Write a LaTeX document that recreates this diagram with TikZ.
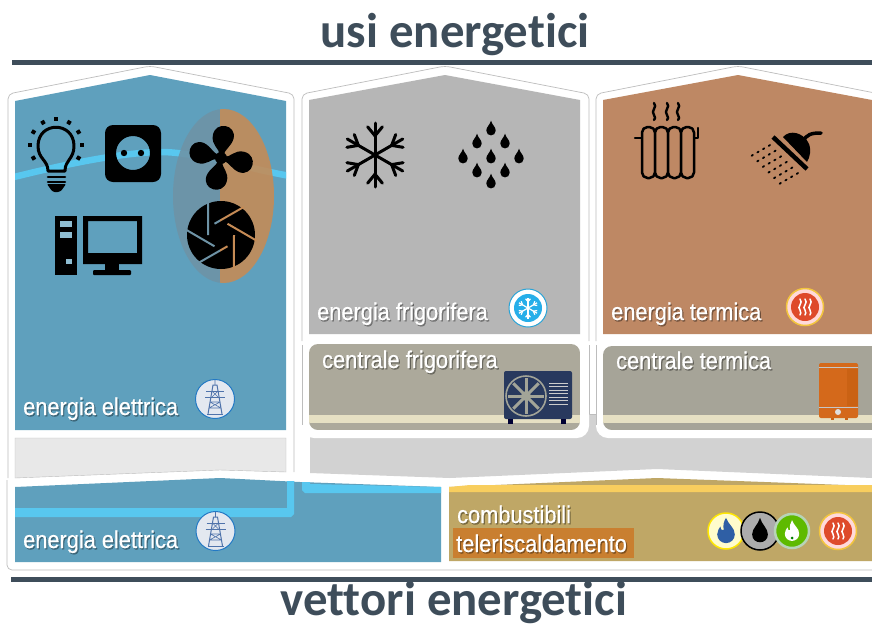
\documentclass[tikz,border=0pt]{standalone}
\usepackage{fontspec}
\setmainfont{Liberation Sans}
\newfontfamily\titlefont[Ligatures=NoCommon]{Carlito}
\newfontfamily\narrowfont[FakeStretch=0.9,FakeBold=0.4]{Liberation Sans}
\definecolor{titledark}{HTML}{3E4D5A}
\definecolor{elblue}{HTML}{5FA0BD}
\definecolor{linkblue}{HTML}{58C7EF}
\definecolor{frigrey}{HTML}{B6B6B6}
\definecolor{termbrown}{HTML}{BE8864}
\definecolor{centralea}{HTML}{ACA99B}
\definecolor{centraleb}{HTML}{A6A498}
\definecolor{bandcream}{HTML}{E6E0C3}
\definecolor{fuelgold}{HTML}{BFA766}
\definecolor{fuelyellow}{HTML}{F8CE5E}
\definecolor{teleorange}{HTML}{C97F30}
\definecolor{outlinegrey}{HTML}{BDBDBD}
\definecolor{ellgrey}{HTML}{6E93A6}
\definecolor{ellorange}{HTML}{C68B55}
\definecolor{pylonring}{HTML}{2379C4}
\definecolor{pylonfill}{HTML}{E3E8F0}
\definecolor{pylonline}{HTML}{4F73AB}
\definecolor{heatring}{HTML}{F2C53D}
\definecolor{heatred}{HTML}{DE4A2B}
\definecolor{snowring}{HTML}{2AA3D6}
\definecolor{snowdisc}{HTML}{26AEE9}
\definecolor{unitnavy}{HTML}{28395E}
\definecolor{unitgrey}{HTML}{A2A498}
\definecolor{boilerorange}{HTML}{D4691B}
\definecolor{boilerdark}{HTML}{CA6214}
\definecolor{flameblue}{HTML}{2F5FA5}
\tikzset{
  titlelabel/.style={font=\titlefont\bfseries\fontsize{48.8}{48.8}\selectfont, text=titledark, anchor=base, inner sep=0pt},
  panellabel/.style={font=\narrowfont\fontsize{24.2}{24.2}\selectfont, text=white, anchor=base west, inner sep=0pt},
  labelshade/.style={panellabel, text=black, opacity=.35},
  outline/.style={color=outlinegrey, line width=0.7pt, line join=round},
  icon/.style={color=black, line width=2.5pt, line cap=round, line join=round},
  waveline/.style={white, line width=1.5pt, line cap=round},
  flake/.pic={
    \foreach \a in {90,150,210,270,330,30} {
      \draw[pic actions, rotate=\a] (0,0) -- (\flakelen,0);
      \draw[pic actions, rotate=\a] (0.6*\flakelen,0) -- ++(0.28*\flakelen,0.23*\flakelen);
      \draw[pic actions, rotate=\a] (0.6*\flakelen,0) -- ++(0.28*\flakelen,-0.23*\flakelen);
    }
  },
  droplet/.pic={
    \fill[pic actions] (0,-7) .. controls (1,-3) and (4.5,-1) .. (4.5,2.5) .. controls (4.5,5.5) and (2.2,7) .. (0,7) .. controls (-2.2,7) and (-4.5,5.5) .. (-4.5,2.5) .. controls (-4.5,-1) and (-1,-3) .. (0,-7) -- cycle;
  },
  flame/.pic={
    \fill[pic actions] (0,-12) .. controls (2,-6) and (8,-3) .. (8,3) .. controls (8,8) and (4,11) .. (0,11) .. controls (-4,11) and (-8,8) .. (-8,3) .. controls (-8,0) and (-6,-3) .. (-5,-4) .. controls (-5,-1) and (-3,0) .. (-2,-1) .. controls (-3,-5) and (-2,-9) .. (0,-12) -- cycle;
  },
  pylonbadge/.pic={
    \draw[color=pylonring, fill=pylonfill, line width=1pt] (0,0) circle (19.5pt);
    \draw[color=pylonline, line width=1pt] (-7,15) -- (-2,-14) -- (2,-14) -- (7,15);
    \draw[color=pylonline, line width=1pt] (-9,-8) -- (9,-8) (-10,-2) -- (10,-2) (-8,15) -- (8,15);
    \draw[color=pylonline, line width=0.6pt] (-5,3) -- (5,3) (-6,9) -- (6,9) (-5,3) -- (6,9) (5,3) -- (-6,9) (-3,-8) -- (3,-2) (3,-8) -- (-3,-2) (0,-19) -- (0,-14);
  },
  heatbadge/.pic={
    \draw[color=heatring, fill=white!85!red, line width=1.5pt] (0,0) circle (18.5pt);
    \fill[color=heatred] (0,0) circle (14pt);
    \foreach \h in {-5,0,5} {
      \draw[waveline] (\h,-8) .. controls (\h+4,-4) and (\h-4,0) .. (\h,3) .. controls (\h+2,5) and (\h,7) .. (\h,8);
    }
  }
}
\newcommand{\flakelen}{32}
\newcommand{\shadelabel}[4]{
  \node[labelshade] (#1shade) at (#2+1.2,#3+1.4) {#4};
  \node[panellabel] (#1) at (#2,#3) {#4};
}
\begin{document}
\begin{tikzpicture}[x=1pt, y=-1pt]
\useasboundingbox (0,0) rectangle (872,627);
\fill[white] (0,0) rectangle (872,627);

\node[titlelabel] (usi) at (455,47) {usi energetici};
\node[titlelabel] (vettori) at (454,615.5) {vettori energetici};
\fill[color=titledark] (12,60) rectangle (872,65);
\fill[color=titledark] (11,577) rectangle (872,582);

\draw[outline, rounded corners=5pt] (294,472) -- (294,94) -- (150,66) -- (8,94) -- (8,478);
\draw[outline, rounded corners=5pt] (302,341) -- (302,94) -- (445,66) -- (589,94) -- (589,341);
\draw[outline, rounded corners=5pt] (596,341) -- (596,94) -- (738,66) -- (880,94);
\draw[outline, rounded corners=5pt] (7,480) -- (7,570) -- (880,570);

\fill[color=elblue] (15,101) -- (150,75) -- (286,101) -- (286,430) -- (15,430) -- cycle;
\fill[color=frigrey] (309,100) -- (445,75) -- (580,100) -- (580,334) -- (309,334) -- cycle;
\fill[color=termbrown] (603,100) -- (738,75) -- (872,100) -- (872,334) -- (603,334) -- cycle;

\draw[color=outlinegrey, fill=gray!18] (15,438) -- (286,438) -- (286,472) -- (220,470) -- (15,478) -- cycle;
\fill[color=gray!35] (310,414) -- (872,414) -- (872,478) -- (657,469) -- (450,478) -- (310,473) -- cycle;
\fill[color=gray!35] (589,414) rectangle (597,437);
\draw[outline] (589,414) -- (597,414);

\fill[white, rounded corners=12pt] (302,338) rectangle (589,438);
\fill[white, rounded corners=12pt] (596,338) rectangle (890,438);
\draw[outline, rounded corners=8pt] (589,345) -- (589,414);
\draw[outline, rounded corners=8pt] (302,345) -- (302,425);
\draw[outline, rounded corners=8pt] (596,345) -- (596,425);

\begin{scope}
\clip[rounded corners=9pt] (309,344) rectangle (580,430);
\fill[color=centralea] (309,344) rectangle (580,430);
\fill[color=bandcream] (309,415) rectangle (580,423);
\end{scope}
\begin{scope}
\clip[rounded corners=9pt] (603,346) rectangle (890,430);
\fill[color=centraleb] (603,346) rectangle (890,430);
\fill[color=bandcream] (603,415) rectangle (890,423);
\end{scope}

\fill[color=elblue] (15,487) -- (220,478) -- (300,482) -- (441,487) -- (441,562) -- (15,562) -- cycle;
\fill[color=linkblue] (15,508) -- (287,508) -- (287,481) -- (294,481) -- (294,514) -- (291,517) -- (15,517) -- cycle;
\fill[color=linkblue] (302,482) -- (310,482) -- (310,484) -- (441,487) -- (441,493) -- (305,493) -- (302,490) -- cycle;
\fill[color=fuelgold] (449,487) -- (657,478) -- (872,486) -- (872,561) -- (449,561) -- cycle;
\fill[color=fuelyellow] (449,487) -- (470,485) -- (872,485) -- (872,492) -- (449,492) -- cycle;
\fill[color=teleorange] (453,528) rectangle (634,558);

\begin{scope}
\clip (15,130) rectangle (286,200);
\draw[color=linkblue, line width=6.5pt] (10,178) .. controls (70,163) and (125,152) .. (163,152) .. controls (200,153) and (245,168) .. (290,176);
\end{scope}

\begin{scope}
\clip (120,100) rectangle (220,290);
\fill[color=ellgrey, opacity=.88] (223.5,196) ellipse (50.5pt and 87pt);
\end{scope}
\begin{scope}
\clip (220,100) rectangle (290,290);
\fill[color=ellorange, opacity=.88] (223.5,196) ellipse (50.5pt and 87pt);
\end{scope}

\foreach \a in {90,60,30,0,-30,120,150,180,210} {
  \fill[black, rotate around={\a:(56,145)}] (80,143) rectangle (84,147);
}
\draw[icon, line width=3pt] (48,171) .. controls (48,160) and (38,159) .. (38,146) .. controls (38,121) and (74,121) .. (74,146) .. controls (74,159) and (65,160) .. (65,171) -- cycle;
\draw[icon, line width=2.6pt] (48,177) -- (65,177);
\draw[icon, line width=2.6pt] (48,182) -- (65,182);
\fill[black, rounded corners=1pt] (47,184) -- (66,184) -- (61,191) -- (56,192.5) -- (52,191) -- cycle;

\fill[black, even odd rule] [rounded corners=8pt] (105,125) rectangle (161,182) [sharp corners] (133,153) circle (17pt);
\fill[black] (124,153) circle (3.2pt);
\fill[black] (141,153) circle (3.2pt);

\fill[black] (55,216) rectangle (77,275);
\fill[color=elblue!70!white] (60,221) rectangle (72,227);
\fill[color=elblue!70!white] (60,232) rectangle (72,238);
\fill[color=elblue!70!white] (66,259) rectangle (72,264);
\fill[black, even odd rule] (83,216) rectangle (142,264) (88,221) rectangle (137,253);
\fill[black] (105,264) rectangle (119,271);
\fill[black, rounded corners=1pt] (93,270) rectangle (131,275);

\foreach \a in {-106,-15,80,162} {
  \fill[black, shift={(221,158)}, rotate=\a] (3,-2) .. controls (9,-3) and (11,-12) .. (21,-12) .. controls (36,-12) and (36,10) .. (21,9) .. controls (13,8) and (9,2) .. (3,2) -- cycle;
}
\fill[black] (221,158) circle (6pt);

\fill[black] (221,235) circle (34pt);
\begin{scope}
\clip (170,190) rectangle (220,290);
\foreach \a in {0,60,120,180,240,300} {
  \draw[color=ellgrey, line width=2pt] ({221+13*cos(\a)},{235+13*sin(\a)}) -- ({221+36*cos(\a+69)},{235+36*sin(\a+69)});
}
\end{scope}
\begin{scope}
\clip (220,190) rectangle (270,290);
\foreach \a in {0,60,120,180,240,300} {
  \draw[color=ellorange, line width=2pt] ({221+13*cos(\a)},{235+13*sin(\a)}) -- ({221+36*cos(\a+69)},{235+36*sin(\a+69)});
}
\end{scope}

\pic[color=black, line width=3pt, line cap=round] at (375,155) {flake};

\foreach \px/\py in {491/128,477/141,505/141,463/156,491/156,519/156,477/170,505/170,491/181} {
  \pic[fill=black, scale=1.05] at (\px,\py) {droplet};
}

\draw[icon] (635,138) -- (642,138);
\draw[icon] (693,138) -- (698,138) -- (698,128);
\foreach \colx in {642,655,668,681} {
  \draw[icon, fill=termbrown, rounded corners=5.5pt] (\colx,127) rectangle (\colx+13,178);
}
\foreach \sx in {654,667,678} {
  \draw[icon, line width=2.4pt] (\sx,103) .. controls (\sx+4,107) and (\sx-4,111) .. (\sx,115) .. controls (\sx+2,117) and (\sx+1,119) .. (\sx,120);
}

\draw[color=black, line width=4.5pt] (773,137) -- (807,169);
\fill[black] (783,137) .. controls (790,129) and (803,133) .. (808,142) .. controls (812,149) and (810,157) .. (807,162) -- cycle;
\draw[color=black, line width=3.5pt, line cap=round] (803,142) .. controls (806,134) and (812,133) .. (821,133);
\foreach \i in {0,...,5} {
  \foreach \j in {0,...,3} {
    \draw[color=black, line width=1.8pt, line cap=round] ({770+5.6*\i-5.7*\j},{145+5.6*\i+3.3*\j}) -- ++(-1.3,0.9);
  }
}

\shadelabel{eleone}{23}{415}{energia elettrica}
\shadelabel{fri}{317}{320}{energia frigorifera}
\shadelabel{cfri}{322}{368}{centrale frigorifera}
\shadelabel{ter}{611}{320}{energia termica}
\shadelabel{cter}{616}{369}{centrale termica}
\shadelabel{eletwo}{23}{548}{energia elettrica}
\shadelabel{comb}{457}{523}{combustibili}
\shadelabel{tele}{456}{552}{teleriscaldamento}

\pic at (215,399) {pylonbadge};
\pic at (215.5,531) {pylonbadge};

\draw[color=snowring, fill=white, line width=1pt] (528,308) circle (19pt);
\fill[color=snowdisc] (528,308) circle (14pt);
\renewcommand{\flakelen}{10.5}
\pic[color=white, line width=1.2pt] at (528,308) {flake};

\pic at (805,307) {heatbadge};
\pic at (838,531) {heatbadge};

\draw[color=yellow!90!orange, fill=yellow!20!white, line width=1.5pt] (726,531) circle (18pt);
\pic[fill=flameblue, scale=1.1] at (726,531) {flame};
\draw[color=black, fill=gray!65!white, line width=1.5pt] (760,531) circle (19pt);
\pic[fill=black, scale=1.75] at (760,530) {droplet};
\draw[color=green!25!gray!45!white, fill=green!40!olive!90!yellow, line width=2.5pt] (792,531) circle (17pt);
\pic[fill=white, scale=.9] at (792,531) {flame};
\fill[color=green!50!black] (792,538) circle (1.5pt);

\fill[color=unitnavy, rounded corners=2pt] (504,371) rectangle (572,419);
\draw[color=unitgrey, line width=1.6pt] (526,396) circle (20pt);
\foreach \a in {0,45,...,315} {
  \draw[color=unitgrey, line width=3pt, shift={(526,396)}, rotate=\a] (4,0) -- (18,0);
}
\fill[color=unitgrey] (526,396) circle (5pt);
\foreach \ly in {383,386.5,390,393.5,397,400.5,404} {
  \draw[color=gray!40!white, line width=0.8pt] (549,\ly) -- (568,\ly);
}
\fill[color=black!80!blue] (507.5,419) rectangle (512.5,424);
\fill[color=black!80!blue] (560.5,419) rectangle (565.5,424);

\fill[color=boilerorange, rounded corners=2pt] (819,363) rectangle (858,418);
\fill[color=boilerdark] (847,369) rectangle (858,406);
\draw[color=gray!45!white, line width=0.7pt] (819,367) -- (858,367);
\draw[color=gray!45!white, line width=0.7pt] (819,407) -- (858,407);
\fill[color=gray!25!white] (838,412) circle (3pt);
\fill[color=boilerdark] (830.5,418) rectangle (834,420);
\fill[color=boilerdark] (844.5,418) rectangle (848,420);
\end{tikzpicture}
\end{document}
